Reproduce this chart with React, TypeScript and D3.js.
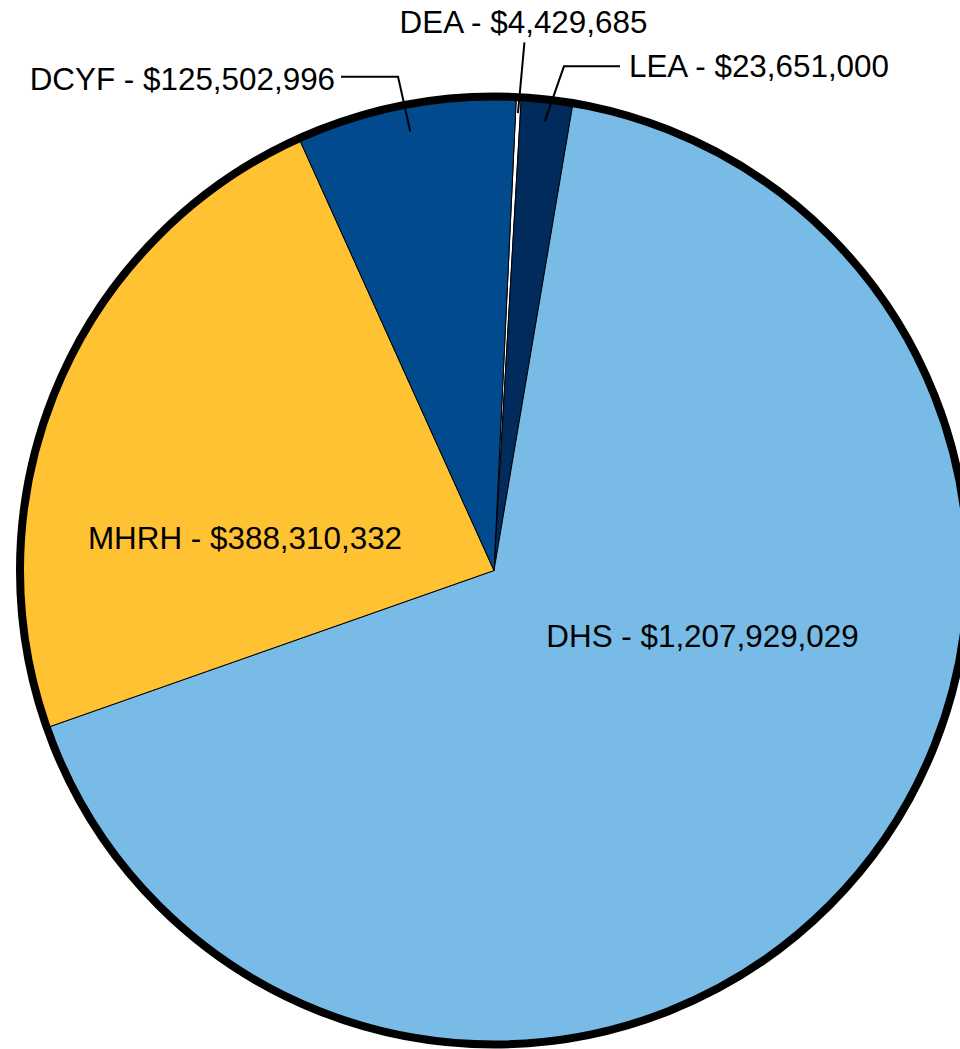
import React from "react";
import * as d3 from "d3";

// Data (order clockwise from just right of 12 o'clock)
const agencies = ["DEA", "LEA", "DHS", "MHRH", "DCYF"];
const amounts = [4429685, 23651000, 1207929029, 388310332, 125502996];
// Slice sizes as drawn in the picture (degrees of the circle)
const sliceDegrees = [0.6, 6.3, 241.1, 85.1, 27.0];
const colors = ["#FFFFFF", "#002B5C", "#78BBE6", "#FFC233", "#004A8D"];

const W = 960;
const H = 1049;
const cx = 494;
const cy = 570.5;
const R = 472;

const fmt = d3.format("$,");

export default function App() {
  const startDeg = 2.7;
  const pie = d3
    .pie<number>()
    .sort(null)
    .value((d) => d)
    .startAngle((startDeg * Math.PI) / 180)
    .endAngle((startDeg * Math.PI) / 180 + 2 * Math.PI);
  const arcs = pie(sliceDegrees);
  const arc = d3.arc<d3.PieArcDatum<number>>().innerRadius(0).outerRadius(R);

  const polar = (a: number, r: number): [number, number] => [
    Math.sin(a) * r,
    -Math.cos(a) * r,
  ];
  const rad = Math.PI / 180;

  // label layout: outside labels with leader lines, inside labels placed in slice
  const outside: Record<
    string,
    {
      r1: number;
      r2: number;
      da: number;
      dx: number;
      anchor: string;
      tdx: number;
      tdy: number;
    }
  > = {
    DEA: { r1: 458, r2: 529, da: 0.3, dx: 0, anchor: "middle", tdx: -1, tdy: -9.5 },
    LEA: { r1: 452, r2: 509, da: 1.45, dx: 56, anchor: "start", tdx: 9, tdy: 11 },
    DCYF: { r1: 447, r2: 503, da: -0.2, dx: -57, anchor: "end", tdx: -6, tdy: 13 },
  };
  const inside: Record<string, [number, number]> = {
    MHRH: [-249, -22],
    DHS: [208.5, 76.5],
  };

  return (
    <svg
      width={W}
      height={H}
      style={{ position: "absolute", left: 0, top: 0, overflow: "hidden" }}
      fontFamily="'Liberation Sans', Arial, sans-serif"
    >
      <rect width={W} height={H} fill="#ffffff" />
      <g transform={`translate(${cx},${cy})`}>
        {arcs.map((a, i) => (
          <path
            key={agencies[i]}
            d={arc(a) || ""}
            fill={colors[i]}
            stroke="#000"
            strokeWidth={1}
            strokeLinejoin="round"
          />
        ))}
        <circle r={R + 2} fill="none" stroke="#000" strokeWidth={8} />
        {arcs.map((a, i) => {
          const name = agencies[i];
          const label = `${name} - ${fmt(amounts[i])}`;
          const mid = (a.startAngle + a.endAngle) / 2;
          const o = outside[name];
          if (o) {
            const p1 = polar(mid, o.r1);
            const p2 = polar(mid + o.da * rad, o.r2);
            const p3: [number, number] = [p2[0] + o.dx, p2[1]];
            const pts = o.dx === 0 ? [p1, p2] : [p1, p2, p3];
            return (
              <g key={name}>
                <polyline
                  points={pts.map((p) => p.join(",")).join(" ")}
                  fill="none"
                  stroke="#000"
                  strokeWidth={2}
                />
                <text
                  x={p3[0] + o.tdx}
                  y={p3[1] + o.tdy}
                  textAnchor={o.anchor}
                  fontSize={31.4}
                  fill="#000"
                >
                  {label}
                </text>
              </g>
            );
          }
          const pos = inside[name];
          return (
            <text
              key={name}
              x={pos[0]}
              y={pos[1]}
              textAnchor="middle"
              fontSize={31.4}
              fill="#000"
            >
              {label}
            </text>
          );
        })}
      </g>
    </svg>
  );
}
